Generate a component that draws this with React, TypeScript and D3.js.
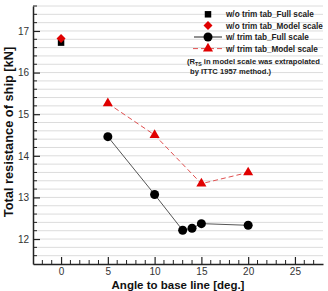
import React, { useEffect, useRef } from "react";
import * as d3 from "d3";

// resistance [kN] vs. trim tab angle [deg.]
const trimAngles = [5, 10, 13, 14, 15, 20];
const trimFullScale = [14.46, 13.07, 12.21, 12.26, 12.37, 12.33];
const modelAngles = [5, 10, 15, 20];
const trimModelScale = [15.26, 14.5, 13.33, 13.6];
const noTabAngle = [0];
const noTabFullScale = [16.72];
const noTabModelScale = [16.82];

const xTicks = [0, 5, 10, 15, 20, 25];
const yTicks = [12, 13, 14, 15, 16, 17];

const legendLabels = [
  "w/o trim tab_Full scale",
  "w/o trim tab_Model scale",
  "w/ trim tab_Full scale",
  "w/ trim tab_Model scale",
];

const W = 328;
const H = 291;
const RED = "#e00000";

export default function App() {
  const ref = useRef<SVGSVGElement>(null);

  useEffect(() => {
    const svg = d3.select(ref.current);
    svg.selectAll("*").remove();

    const left = 33, right = 323, top = 6, bottom = 264;
    const x = d3.scaleLinear().domain([-3, 28]).range([left, right]);
    const y = d3.scaleLinear().domain([11.4, 17.6]).range([bottom, top]);
    const font = "Arial, 'Liberation Sans', sans-serif";

    // horizontal grid every 0.2 kN
    const gridVals = d3.range(11.6, 17.61, 0.2);
    svg.append("g")
      .selectAll("line")
      .data(gridVals)
      .enter()
      .append("line")
      .attr("x1", left)
      .attr("x2", right)
      .attr("y1", (d) => y(d))
      .attr("y2", (d) => y(d))
      .attr("stroke", "#dcdcdc")
      .attr("stroke-width", 1);

    // axes with ticks pointing inward
    const xAxis = d3.axisBottom(x).tickValues(xTicks).tickFormat(d3.format("d")).tickSizeInner(-7).tickSizeOuter(0);
    const gx = svg.append("g").attr("transform", `translate(0,${bottom})`).call(xAxis);
    gx.selectAll("text").attr("font-family", font).attr("font-size", 10).attr("fill", "#333").attr("y", 4).attr("dy", "0.72em");
    gx.select(".domain").attr("stroke", "#222").attr("stroke-width", 1.5);
    gx.selectAll(".tick line").attr("stroke", "#222").attr("stroke-width", 1.2);
    svg.append("g")
      .selectAll("line")
      .data(d3.range(-2, 28, 1).filter((d) => d % 5 !== 0))
      .enter()
      .append("line")
      .attr("x1", (d) => x(d))
      .attr("x2", (d) => x(d))
      .attr("y1", bottom)
      .attr("y2", bottom - 4)
      .attr("stroke", "#222");

    const yAxis = d3.axisLeft(y).tickValues(yTicks).tickFormat(d3.format("d")).tickSizeInner(-7).tickSizeOuter(0);
    const gy = svg.append("g").attr("transform", `translate(${left},0)`).call(yAxis);
    gy.selectAll("text").attr("font-family", font).attr("font-size", 10).attr("fill", "#333").attr("x", -4);
    gy.select(".domain").attr("stroke", "#222").attr("stroke-width", 1.5);
    gy.selectAll(".tick line").attr("stroke", "#222").attr("stroke-width", 1.2);
    svg.append("g")
      .selectAll("line")
      .data(gridVals.filter((d) => Math.abs(d - Math.round(d)) > 0.05))
      .enter()
      .append("line")
      .attr("x1", left)
      .attr("x2", left + 4)
      .attr("y1", (d) => y(d))
      .attr("y2", (d) => y(d))
      .attr("stroke", "#222");

    // axis titles
    svg.append("text")
      .attr("x", (left + right) / 2)
      .attr("y", 289)
      .attr("text-anchor", "middle")
      .attr("font-family", font)
      .attr("font-weight", "bold")
      .attr("font-size", 11.5)
      .attr("fill", "#111")
      .text("Angle to base line [deg.]");
    svg.append("text")
      .attr("transform", `translate(13,132) rotate(-90)`)
      .attr("text-anchor", "middle")
      .attr("font-family", font)
      .attr("font-weight", "bold")
      .attr("font-size", 12.8)
      .attr("fill", "#111")
      .text("Total resistance of ship [kN]");

    const line = d3.line<[number, number]>().x((d) => x(d[0])).y((d) => y(d[1]));
    const full = trimAngles.map((a, i) => [a, trimFullScale[i]] as [number, number]);
    const model = modelAngles.map((a, i) => [a, trimModelScale[i]] as [number, number]);

    svg.append("path").attr("d", line(model)).attr("fill", "none").attr("stroke", "#e05050").attr("stroke-width", 1).attr("stroke-dasharray", "5,3");
    svg.append("path").attr("d", line(full)).attr("fill", "none").attr("stroke", "#555").attr("stroke-width", 1);

    const tri = d3.symbol().type(d3.symbolTriangle).size(44);
    const dia = d3.symbol().type(d3.symbolSquare).size(40);
    const sq = d3.symbol().type(d3.symbolSquare).size(42);

    svg.append("g")
      .selectAll("circle")
      .data(full)
      .enter()
      .append("circle")
      .attr("cx", (d) => x(d[0]))
      .attr("cy", (d) => y(d[1]))
      .attr("r", 4.5)
      .attr("fill", "#000");
    svg.append("g")
      .selectAll("path")
      .data(model)
      .enter()
      .append("path")
      .attr("d", tri)
      .attr("transform", (d) => `translate(${x(d[0])},${y(d[1])})`)
      .attr("fill", RED);
    svg.append("path")
      .attr("d", sq)
      .attr("transform", `translate(${x(noTabAngle[0])},${y(noTabFullScale[0])})`)
      .attr("fill", "#000");
    svg.append("path")
      .attr("d", dia)
      .attr("transform", `translate(${x(noTabAngle[0])},${y(noTabModelScale[0])}) rotate(45)`)
      .attr("fill", RED);

    // legend
    const lg = svg.append("g");
    const rowY = [14.3, 25.5, 37, 48.6];
    const sx = 208, tx = 226;
    lg.append("path").attr("d", sq).attr("transform", `translate(${sx},${rowY[0]})`).attr("fill", "#000");
    lg.append("path").attr("d", dia).attr("transform", `translate(${sx},${rowY[1]}) rotate(45)`).attr("fill", RED);
    lg.append("line").attr("x1", 194).attr("x2", 222).attr("y1", rowY[2]).attr("y2", rowY[2]).attr("stroke", "#222");
    lg.append("circle").attr("cx", sx).attr("cy", rowY[2]).attr("r", 4.5).attr("fill", "#000");
    lg.append("line").attr("x1", 193).attr("x2", 223).attr("y1", rowY[3]).attr("y2", rowY[3]).attr("stroke", "#e05050").attr("stroke-dasharray", "5,3");
    lg.append("path").attr("d", tri).attr("transform", `translate(${sx},${rowY[3]})`).attr("fill", RED);
    lg.selectAll("text.lab")
      .data(legendLabels)
      .enter()
      .append("text")
      .attr("x", tx)
      .attr("y", (_, i) => rowY[i] + 3)
      .attr("font-family", font)
      .attr("font-weight", "bold")
      .attr("font-size", 8.2)
      .attr("fill", "#222")
      .text((d) => d);

    const note = lg.append("text")
      .attr("font-family", font)
      .attr("font-weight", "bold")
      .attr("font-size", 7.6)
      .attr("fill", "#222");
    const l1 = note.append("tspan").attr("x", 187).attr("y", 64);
    l1.append("tspan").text("(R");
    l1.append("tspan").attr("font-size", 5.2).attr("dy", 2).text("TS");
    l1.append("tspan").attr("dy", -2).text(" in model scale was extrapolated");
    note.append("tspan").attr("x", 190).attr("y", 74).text("by ITTC 1957 method.)");
  }, []);

  return (
    <svg
      ref={ref}
      width={W}
      height={H}
      style={{ position: "absolute", left: 0, top: 0, background: "#fff" }}
    />
  );
}
